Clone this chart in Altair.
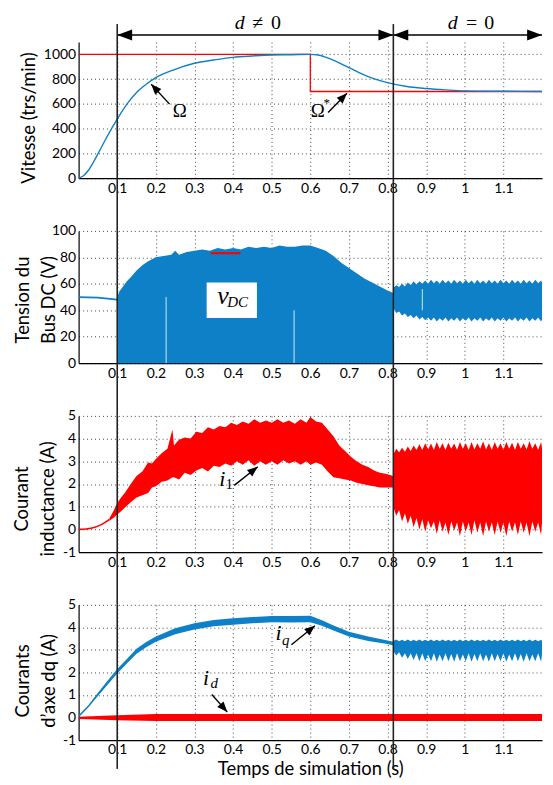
import math
import altair as alt
import pandas as pd

# ---------------- data ----------------
X_TICKS = [0.1, 0.2, 0.3, 0.4, 0.5, 0.6, 0.7, 0.8, 0.9, 1, 1.1]
X_SWITCH = [0.1, 0.815]

# Panel 1 : speed (trs/min)
T_OMEGA = [0, 0.0125, 0.025, 0.0375, 0.05, 0.075, 0.1, 0.125, 0.15, 0.175, 0.2, 0.25, 0.3, 0.35,
           0.4, 0.45, 0.5, 0.55, 0.6, 0.62, 0.65, 0.7, 0.75, 0.8, 0.85, 0.9, 0.95, 1.0, 1.1, 1.2]
OMEGA = [0, 20, 62, 125, 196, 343, 477, 598, 692, 759, 812, 879, 928, 954,
         976, 987, 995, 997, 1000, 995, 965, 893, 820, 772, 740, 724, 713, 705, 702, 700]
T_OMEGA_REF = [0, 0.6, 0.6, 1.2]
OMEGA_REF = [1000, 1000, 700, 700]

# time samples of the envelopes after the switch (d = 0)
T_OFF = [0.815, 0.8225, 0.83, 0.8375, 0.845, 0.8525, 0.86, 0.8675, 0.875, 0.8825,
         0.89, 0.8975, 0.905, 0.9125, 0.92, 0.9275, 0.935, 0.9425, 0.95, 0.9575,
         0.965, 0.9725, 0.98, 0.9875, 0.995, 1.0025, 1.01, 1.0175, 1.025, 1.0325,
         1.04, 1.0475, 1.055, 1.0625, 1.07, 1.0775, 1.085, 1.0925, 1.1, 1.1075,
         1.115, 1.1225, 1.13, 1.1375, 1.145, 1.1525, 1.16, 1.1675, 1.175, 1.1825,
         1.19, 1.1975, 1.2]

# Panel 2 : DC bus voltage (V)
T_VDC_PRE = [0, 0.05, 0.1]
VDC_PRE = [50, 49.5, 48]
T_VDC_ON = [0.1, 0.105, 0.115, 0.125, 0.135, 0.15, 0.165, 0.18, 0.2, 0.22, 0.24, 0.25, 0.26, 0.28,
            0.3, 0.32, 0.34, 0.36, 0.38, 0.4, 0.42, 0.44, 0.46, 0.48, 0.5, 0.52, 0.54, 0.56, 0.58,
            0.6, 0.62, 0.64, 0.66, 0.68, 0.7, 0.72, 0.74, 0.76, 0.78, 0.8, 0.815]
VDC_ON_UP = [50, 54, 58, 62, 65, 70, 74, 77, 80, 81, 82, 85, 82, 84,
             85, 86, 85, 87, 86, 87, 86, 88, 87, 88, 87, 89, 88, 88, 89,
             89, 87, 85, 81, 76, 72, 68, 64, 61, 58, 55, 53]
VDC_OFF_UP = [57, 59, 57.5, 60, 58, 61, 59, 62, 59.5, 62,
              60, 62.5, 60, 63, 60.5, 62.5, 60, 63, 60.5, 62.5,
              60, 63, 60.5, 62.5, 60, 63, 60.5, 62.5, 60, 63,
              60.5, 62.5, 60, 63, 60.5, 62.5, 60, 63, 60.5, 62.5,
              60, 63, 60.5, 62.5, 60, 63, 60.5, 62.5, 60, 63,
              60.5, 62.5, 61]
VDC_OFF_LO = [42, 38, 39, 36, 37.5, 35, 36.5, 34, 36, 33,
              35, 32.5, 34.5, 32, 34.5, 31.5, 34, 32, 34.5, 31.5,
              34, 32, 34.5, 31.5, 34, 32, 34.5, 31.5, 34, 32,
              34.5, 31.5, 34, 32, 34.5, 31.5, 34, 32, 34.5, 31.5,
              34, 32, 34.5, 31.5, 34, 32, 34.5, 31.5, 34, 32,
              34.5, 31.5, 33]
VDC_REF_T = [0.342, 0.419]
VDC_REF = [83.2, 83.2]

# Panel 3 : inductor current (A)
T_I1_PRE = [0, 0.02, 0.04, 0.06, 0.08]
I1_PRE = [0, 0.02, 0.08, 0.22, 0.44]
T_I1_ON = [0.08, 0.09, 0.1, 0.11, 0.12, 0.135, 0.15, 0.165, 0.18, 0.19, 0.2, 0.215, 0.23, 0.243,
           0.247, 0.26, 0.275, 0.29, 0.305, 0.32, 0.335, 0.35, 0.365, 0.38, 0.395, 0.41, 0.425,
           0.44, 0.455, 0.47, 0.485, 0.5, 0.515, 0.53, 0.545, 0.56, 0.575, 0.59, 0.6, 0.615, 0.63,
           0.645, 0.66, 0.675, 0.69, 0.705, 0.72, 0.735, 0.75, 0.765, 0.78, 0.795, 0.815]
I1_ON_UP = [0.5, 0.8, 1.15, 1.4, 1.62, 2.0, 2.35, 2.55, 2.95, 2.9, 3.1, 3.35, 3.55, 4.4,
            3.7, 3.95, 4.05, 4.0, 4.3, 4.25, 4.5, 4.4, 4.55, 4.5, 4.7, 4.6, 4.75,
            4.65, 4.85, 4.7, 4.8, 4.7, 4.85, 4.7, 4.8, 4.65, 4.85, 4.7, 4.95, 4.75, 4.7,
            4.4, 4.1, 3.7, 3.45, 3.2, 3.0, 2.85, 2.75, 2.6, 2.5, 2.45, 2.35]
I1_ON_LO = [0.38, 0.5, 0.66, 0.8, 0.96, 1.2, 1.4, 1.5, 1.6, 1.85, 1.9, 2.1, 2.15, 2.3,
            2.3, 2.2, 2.5, 2.4, 2.6, 2.7, 2.55, 2.8, 2.75, 2.9, 2.8, 3.0, 2.85,
            3.05, 2.8, 3.0, 2.85, 3.0, 2.85, 3.05, 2.9, 3.0, 2.85, 3.0, 2.85, 2.95, 2.85,
            2.55, 2.3, 2.25, 2.2, 2.15, 2.05, 2.0, 1.95, 1.9, 1.85, 1.85, 1.85]
I1_OFF_UP = [3.3, 3.55, 3.4, 3.6, 3.42, 3.65, 3.45, 3.7, 3.5, 3.75,
             3.5, 3.8, 3.52, 3.78, 3.5, 3.85, 3.55, 3.8, 3.5, 3.82,
             3.55, 3.78, 3.5, 3.85, 3.55, 3.8, 3.5, 3.85, 3.52, 3.8,
             3.55, 3.88, 3.52, 3.8, 3.5, 3.85, 3.55, 3.8, 3.5, 3.85,
             3.55, 3.82, 3.5, 3.85, 3.55, 3.8, 3.52, 3.88, 3.55, 3.8,
             3.5, 3.85, 3.6]
I1_OFF_LO = [1.0, 0.6, 0.85, 0.35, 0.7, 0.25, 0.6, 0.1, 0.5, 0.0,
             0.45, -0.1, 0.4, 0.05, 0.35, -0.2, 0.4, -0.1, 0.3, -0.25,
             0.35, -0.05, 0.3, -0.3, 0.35, -0.1, 0.3, -0.25, 0.4, -0.15,
             0.3, -0.3, 0.35, -0.1, 0.3, -0.25, 0.35, -0.15, 0.3, -0.3,
             0.35, -0.1, 0.3, -0.25, 0.35, -0.15, 0.3, -0.3, 0.35, -0.1,
             0.3, -0.25, 0.3]

# Panel 4 : dq currents (A)
T_IQ_ON = [0, 0.025, 0.05, 0.075, 0.1, 0.125, 0.15, 0.175, 0.2, 0.25, 0.3, 0.35, 0.4, 0.45, 0.5,
           0.55, 0.6, 0.63, 0.66, 0.7, 0.75, 0.8, 0.815]
IQ_ON_LO = [0.0, 0.45, 0.95, 1.45, 1.95, 2.4, 2.83, 3.12, 3.36, 3.7, 3.9, 4.05, 4.12, 4.18, 4.23,
            4.22, 4.23, 4.07, 3.86, 3.6, 3.4, 3.26, 3.2]
IQ_ON_UP = [0.1, 0.55, 1.1, 1.63, 2.15, 2.6, 3.05, 3.35, 3.6, 3.96, 4.18, 4.33, 4.4, 4.46, 4.5,
            4.5, 4.52, 4.32, 4.08, 3.8, 3.6, 3.42, 3.36]
IQ_OFF_UP = [3.4, 3.46, 3.38, 3.45, 3.38, 3.46, 3.38, 3.45, 3.38, 3.46,
             3.38, 3.45, 3.38, 3.46, 3.38, 3.45, 3.38, 3.46, 3.38, 3.45,
             3.38, 3.45, 3.38, 3.46, 3.38, 3.45, 3.38, 3.46, 3.38, 3.45,
             3.38, 3.45, 3.38, 3.46, 3.38, 3.45, 3.38, 3.46, 3.38, 3.45,
             3.38, 3.45, 3.38, 3.46, 3.38, 3.45, 3.38, 3.46, 3.38, 3.45,
             3.38, 3.45, 3.4]
IQ_OFF_LO = [2.95, 2.75, 2.9, 2.65, 2.85, 2.6, 2.85, 2.55, 2.85, 2.5,
             2.85, 2.5, 2.8, 2.5, 2.85, 2.48, 2.8, 2.5, 2.85, 2.5,
             2.82, 2.48, 2.85, 2.5, 2.8, 2.5, 2.85, 2.48, 2.82, 2.5,
             2.85, 2.5, 2.8, 2.48, 2.85, 2.5, 2.82, 2.5, 2.85, 2.48,
             2.8, 2.5, 2.85, 2.5, 2.82, 2.48, 2.85, 2.5, 2.8, 2.5,
             2.85, 2.48, 2.8]
T_ID = [0, 0.1, 0.2, 1.2]
ID_LO = [-0.06, -0.12, -0.15, -0.15]
ID_UP = [0.04, 0.1, 0.16, 0.16]

# ---------------- layout / style ----------------
FONT = "Lato"
SERIF = "Liberation Serif"
BLUE = "#0E80C8"
RED = "#FF0000"
XMAX = 1.2
W = 466
H = [137, 133, 137, 136]
SP = 53
YDOM = [[0, 1100], [0, 100], [-1, 5], [-1, 5]]
KX = W / XMAX

HEAD_SMALL = "M0,0L-2,-0.8L-2,0.8Z"
HEAD_BIG = "M0,0L-2,-0.75L-2,0.75Z"


def D(**cols):
    return pd.DataFrame(cols)


def xenc(title=None):
    return alt.X("t:Q", scale=alt.Scale(domain=[0, XMAX], nice=False, zero=False),
                 axis=alt.Axis(values=X_TICKS, labelExpr="datum.value", title=title,
                               titlePadding=3))


def yenc(i, values, title, tx, ty):
    return alt.Y("v:Q", scale=alt.Scale(domain=YDOM[i], nice=False, zero=False),
                 axis=alt.Axis(values=values, labelExpr="datum.value", title=title,
                               titleX=tx, titleY=ty, titleAngle=270, titleAlign="center",
                               titleBaseline="middle", titleLineHeight=26))


def arrow_layers(i, tails, heads, xt, yt, size=110):
    ky = H[i] / (YDOM[i][1] - YDOM[i][0])
    rows, hrows = [], []
    for (t0, v0), (t1, v1) in zip(tails, heads):
        ang = math.degrees(math.atan2(-(v1 - v0) * ky, (t1 - t0) * KX)) % 360
        rows.append(dict(t=t0, v=v0, t2=t1, v2=v1))
        hrows.append(dict(t=t1, v=v1, ang=ang))
    line = alt.Chart(pd.DataFrame(rows)).mark_rule(color="black", strokeWidth=1.4).encode(
        x=xt, x2="t2:Q", y=yt, y2="v2:Q")
    head = alt.Chart(pd.DataFrame(hrows)).mark_point(
        shape=HEAD_SMALL, filled=True, color="black", opacity=1, size=size, strokeWidth=0).encode(
        x=xt, y=yt, angle=alt.Angle("ang:Q", scale=None))
    return [line, head]


def vlines(xt, top, bottom):
    return alt.Chart(D(t=X_SWITCH)).mark_rule(color="#222", strokeWidth=1.6).encode(
        x=xt, y=alt.value(top), y2=alt.value(bottom))


def math_text(d, size, xt, yt=None, italic=True, dx=0, dy=0, ypix=None):
    m = alt.Chart(d).mark_text(font=SERIF, fontSize=size, fontStyle="italic" if italic else "normal",
                               color="black", align="center", baseline="middle", dx=dx, dy=dy)
    if ypix is None:
        return m.encode(x=xt, y=yt, text="s:N")
    return m.encode(x=xt, y=alt.value(ypix), text="s:N")


# ---------------- panel 1 ----------------
x1 = xenc()
y1 = yenc(0, [0, 200, 400, 600, 800, 1000], "Vitesse (trs/min)", -50, 76)
p1_layers = [
    alt.Chart(D(t=T_OMEGA_REF, v=OMEGA_REF, i=list(range(len(OMEGA_REF))))).mark_line(
        color=RED, strokeWidth=1.3).encode(x=x1, y=y1, order="i:Q"),
    alt.Chart(D(t=T_OMEGA, v=OMEGA)).mark_line(color=BLUE, strokeWidth=1.4,
                                                interpolate="monotone").encode(x=x1, y=y1),
]
p1_layers += arrow_layers(0, [(0.2356, 598), (0.646, 531)], [(0.188, 759), (0.695, 686)], x1, y1)
p1_layers += [
    math_text(D(t=[0.262, 0.619], v=[544, 544], s=["Ω", "Ω"]), 19, x1, y1, italic=False),
    math_text(D(t=[0.619], v=[544], s=["*"]), 13, x1, y1, italic=False, dx=9, dy=-8),
    # top phase arrows
    alt.Chart(D(t=[0.1, 0.815], t2=[0.815, 1.2])).mark_rule(color="black", strokeWidth=1.4).encode(
        x=x1, x2="t2:Q", y=alt.value(-7)),
    alt.Chart(D(t=[0.1, 0.815, 0.815, 1.2], ang=[180, 0, 180, 0])).mark_point(
        shape=HEAD_BIG, filled=True, color="black", opacity=1, size=225, strokeWidth=0).encode(
        x=x1, y=alt.value(-7), angle=alt.Angle("ang:Q", scale=None)),
    math_text(D(t=[0.417, 0.969], s=["d", "d"]), 20, x1, italic=True, ypix=-19),
    math_text(D(t=[0.464, 1.018], s=["≠", "="]), 20, x1, italic=False, ypix=-19),
    math_text(D(t=[0.511, 1.063], s=["0", "0"]), 20, x1, italic=False, ypix=-19),
    vlines(x1, -18, H[0] + SP),
]
p1 = alt.layer(*p1_layers).properties(width=W, height=H[0])

# ---------------- panel 2 ----------------
x2 = xenc()
y2 = yenc(1, [0, 20, 40, 60, 80, 100], ["Tension du", "Bus DC (V)"], -56, 69)
p2_layers = [
    alt.Chart(D(t=T_VDC_PRE, v=VDC_PRE)).mark_line(color=BLUE, strokeWidth=1.8).encode(x=x2, y=y2),
    alt.Chart(D(t=T_VDC_ON, v=VDC_ON_UP)).mark_area(color=BLUE, opacity=1).encode(x=x2, y=y2),
    alt.Chart(D(t=T_OFF, v=VDC_OFF_LO, v2=VDC_OFF_UP)).mark_area(color=BLUE, opacity=1).encode(
        x=x2, y=y2, y2="v2:Q"),
    alt.Chart(D(t=[0.2266, 0.558, 0.89], v=[0, 0, 40], v2=[50, 40, 56])).mark_rule(
        color="white", strokeWidth=1, opacity=0.8).encode(x=x2, y=y2, y2="v2:Q"),
    alt.Chart(D(t=VDC_REF_T, v=VDC_REF)).mark_line(color=RED, strokeWidth=2.2).encode(x=x2, y=y2),
    alt.Chart(D(t=[0.3316], t2=[0.4618], v=[34.2], v2=[61])).mark_rect(color="white").encode(
        x=x2, x2="t2:Q", y=y2, y2="v2:Q"),
    math_text(D(t=[0.374], v=[50.5], s=["v"]), 26, x2, y2, italic=True),
    math_text(D(t=[0.412], v=[46], s=["DC"]), 15, x2, y2, italic=True),
    vlines(x2, 0, H[1] + SP),
]
p2 = alt.layer(*p2_layers).properties(width=W, height=H[1])

# ---------------- panel 3 ----------------
x3 = xenc()
y3 = yenc(2, [-1, 0, 1, 2, 3, 4, 5], ["Courant", "inductance (A)"], -57, 83)
p3_layers = [
    alt.Chart(D(t=T_I1_PRE, v=I1_PRE)).mark_line(color=RED, strokeWidth=1.6,
                                                  interpolate="monotone").encode(x=x3, y=y3),
    alt.Chart(D(t=T_I1_ON, v=I1_ON_LO, v2=I1_ON_UP)).mark_area(color=RED, opacity=1).encode(
        x=x3, y=y3, y2="v2:Q"),
    alt.Chart(D(t=T_OFF, v=I1_OFF_LO, v2=I1_OFF_UP)).mark_area(color=RED, opacity=1).encode(
        x=x3, y=y3, y2="v2:Q"),
]
p3_layers += arrow_layers(2, [(0.403, 1.94)], [(0.464, 2.76)], x3, y3)
p3_layers += [
    math_text(D(t=[0.372], v=[2.2], s=["i"]), 22, x3, y3, italic=True),
    math_text(D(t=[0.39], v=[2.0], s=["1"]), 15, x3, y3, italic=False),
    vlines(x3, 0, H[2] + SP),
]
p3 = alt.layer(*p3_layers).properties(width=W, height=H[2])

# ---------------- panel 4 ----------------
x4 = xenc("Temps de simulation (s)")
y4 = yenc(3, [-1, 0, 1, 2, 3, 4, 5], ["Courants", "d’axe dq (A)"], -56, 76)
p4_layers = [
    alt.Chart(D(t=T_ID, v=ID_LO, v2=ID_UP)).mark_area(color=RED, opacity=1).encode(
        x=x4, y=y4, y2="v2:Q"),
    alt.Chart(D(t=T_IQ_ON, v=IQ_ON_LO, v2=IQ_ON_UP)).mark_area(color=BLUE, opacity=1).encode(
        x=x4, y=y4, y2="v2:Q"),
    alt.Chart(D(t=T_OFF, v=IQ_OFF_LO, v2=IQ_OFF_UP)).mark_area(color=BLUE, opacity=1).encode(
        x=x4, y=y4, y2="v2:Q"),
]
p4_layers += arrow_layers(3, [(0.551, 3.23), (0.345, 1.02)], [(0.612, 4.07), (0.385, 0.24)], x4, y4)
p4_layers += [
    math_text(D(t=[0.518, 0.33], v=[3.75, 1.76], s=["i", "i"]), 22, x4, y4, italic=True),
    math_text(D(t=[0.536, 0.351], v=[3.45, 1.54], s=["q", "d"]), 15, x4, y4, italic=True),
    vlines(x4, 0, H[3] + 29),
]
p4 = alt.layer(*p4_layers).properties(width=W, height=H[3])

chart = alt.vconcat(p1, p2, p3, p4, spacing=SP, bounds="flush").properties(
    padding={"left": 5, "top": 3, "right": 0, "bottom": 0}
).configure_axis(
    grid=True, gridColor="#333", gridDash=[1, 3], gridWidth=1, gridOpacity=0.9,
    domainColor="#000", domainWidth=1.2, ticks=False, labelOverlap=False,
    labelFont=FONT, labelFontSize=14, labelColor="#000", labelPadding=3,
    titleFont=FONT, titleFontSize=18.5, titleColor="#000", titleFontWeight="normal",
).configure_view(stroke=None)

chart.save("out.html", embed_options={"renderer": "svg", "actions": False})
